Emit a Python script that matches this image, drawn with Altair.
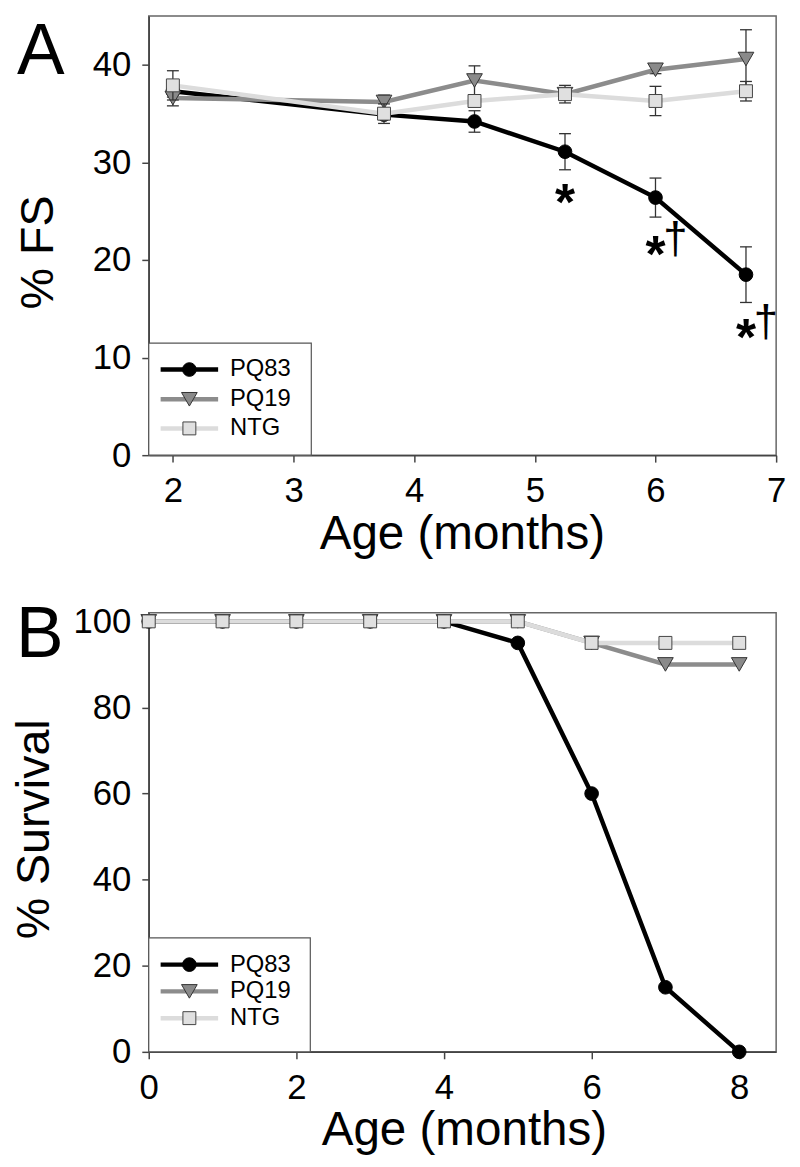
import altair as alt
import pandas as pd

FONT = "Liberation Sans"

series = ["PQ83", "PQ19", "NTG"]
panel_labels = ["A", "B"]

# ---- Panel A: % fractional shortening ----
age_a = [2, 3.75, 4.5, 5.25, 6, 6.75]
fs_pq83 = [37.3, 34.9, 34.2, 31.1, 26.4, 18.5]
fs_pq83_err = [0.6, 0.5, 1.1, 1.85, 2.0, 2.85]
fs_pq19 = [36.6, 36.2, 38.4, 37.0, 39.5, 40.6]
fs_pq19_err = [0.8, 0.7, 1.5, 0.5, 0.4, 3.0]
fs_ntg = [37.9, 35.0, 36.3, 37.0, 36.3, 37.3]
fs_ntg_err = [1.5, 1.0, 0.6, 0.9, 1.5, 1.0]

star_x = [5.25, 6, 6.75]
star_y = [26.6, 21.3, 12.8]
dagger_x = [6, 6.75]
dagger_y = [21.3, 12.8]

# ---- Panel B: % survival ----
age_b = [0, 1, 2, 3, 4, 5, 6, 7, 8]
surv_pq83 = [100, 100, 100, 100, 100, 95, 60, 15, 0]
surv_pq19 = [100, 100, 100, 100, 100, 100, 95, 90, 90]
surv_ntg = [100, 100, 100, 100, 100, 100, 95, 95, 95]

style = {
    "PQ83": dict(line="#000000", fill="#000000", stroke="#000000", shape="circle", size=190),
    "PQ19": dict(line="#8c8c8c", fill="#8a8a8a", stroke="#333333", shape="triangle-down", size=250),
    "NTG": dict(line="#dcdcdc", fill="#e0e0e0", stroke="#444444", shape="square", size=170),
}

vals_a = {"PQ83": (fs_pq83, fs_pq83_err), "PQ19": (fs_pq19, fs_pq19_err), "NTG": (fs_ntg, fs_ntg_err)}
vals_b = {"PQ83": surv_pq83, "PQ19": surv_pq19, "NTG": surv_ntg}

W, H = 633, 443


def axis_common(**kw):
    base = dict(grid=False, ticks=True, tickSize=7, tickColor="#444", tickWidth=1.5,
                domainColor="#444", domainWidth=1.5, labelFont=FONT, labelFontSize=35,
                labelColor="#000", titleFont=FONT, titleFontWeight="normal",
                titleColor="#000", labelFlush=False, labelOverlap=False)
    base.update(kw)
    return alt.Axis(**base)


def legend_layers(rows_y, box):
    out = []
    out.append(alt.Chart(pd.DataFrame({"k": [0]})).mark_rect(
        fill="white", stroke="#555", strokeWidth=1.2).encode(
        x=alt.value(box[0]), x2=alt.value(box[1]), y=alt.value(box[2]), y2=alt.value(box[3])))
    for name, yy in zip(series, rows_y):
        st = style[name]
        c = alt.Chart(pd.DataFrame({"series": [name]}))
        out.append(c.mark_rule(color=st["line"], strokeWidth=4.5).encode(
            x=alt.value(12), x2=alt.value(70), y=alt.value(yy)))
        out.append(c.mark_point(shape=st["shape"], size=st["size"], filled=True, fill=st["fill"],
                                stroke=st["stroke"], strokeWidth=1, opacity=1).encode(
            x=alt.value(41), y=alt.value(yy)))
        out.append(c.mark_text(align="left", baseline="middle", fontSize=24, font=FONT,
                               color="black").encode(
            x=alt.value(82), y=alt.value(yy), text="series:N"))
    return out


# ---------------- Panel A ----------------
xs_a = alt.Scale(domain=[1.8, 7], nice=False, zero=False)
ys_a = alt.Scale(domain=[0, 45], nice=False)
xax_a = axis_common(values=[2, 3, 4, 5, 6, 7], format="d", labelPadding=12,
                    title="Age (months)", titleFontSize=48, titleX=316, titleY=94,
                    titleAlign="center", titleBaseline="alphabetic")
yax_a = axis_common(values=[0, 10, 20, 30, 40], format="d", labelPadding=11,
                    title="% FS", titleFontSize=47, titleAngle=270, titleX=-111, titleY=238,
                    titleAlign="center", titleBaseline="middle")
XA = alt.X("age:Q", scale=xs_a, axis=xax_a)

layers_a = []
for name in series:
    st = style[name]
    v, e = vals_a[name]
    d = pd.DataFrame({"age": age_a, "val": v,
                      "lo": [a - b for a, b in zip(v, e)], "hi": [a + b for a, b in zip(v, e)]})
    c = alt.Chart(d)
    layers_a.append(c.mark_rule(color="#333", strokeWidth=1.3).encode(
        x=XA, y=alt.Y("lo:Q", scale=ys_a, axis=yax_a), y2="hi:Q"))
    for col in ["lo", "hi"]:
        layers_a.append(c.mark_point(shape="M-1,0L1,0", size=144, filled=False, stroke="#333",
                                     strokeWidth=1.3, opacity=1).encode(
            x=XA, y=alt.Y(f"{col}:Q", scale=ys_a, axis=yax_a)))
    layers_a.append(c.mark_line(color=st["line"], strokeWidth=4.5).encode(
        x=XA, y=alt.Y("val:Q", scale=ys_a, axis=yax_a)))
    layers_a.append(c.mark_point(shape=st["shape"], size=st["size"], filled=True, fill=st["fill"],
                                 stroke=st["stroke"], strokeWidth=1, opacity=1).encode(
        x=XA, y=alt.Y("val:Q", scale=ys_a, axis=yax_a)))

star_df = pd.DataFrame({"age": star_x, "val": star_y})
dag_df = pd.DataFrame({"age": dagger_x, "val": dagger_y})
layers_a.append(alt.Chart(star_df).mark_text(fontSize=52, fontWeight="bold", font=FONT, color="black",
                                             baseline="alphabetic", align="center", dy=25).encode(
    x=XA, y=alt.Y("val:Q", scale=ys_a, axis=yax_a), text=alt.value("*")))
layers_a.append(alt.Chart(dag_df).mark_text(fontSize=44, font=FONT, color="black",
                                            baseline="alphabetic", align="center", dx=20, dy=6).encode(
    x=XA, y=alt.Y("val:Q", scale=ys_a, axis=yax_a), text=alt.value("†")))

layers_a += legend_layers([356.6, 386.6, 416], [0, 164, 330, H])
layers_a.append(alt.Chart(pd.DataFrame({"label": [panel_labels[0]]})).mark_text(
    align="left", baseline="alphabetic", fontSize=72, font=FONT, color="black").encode(
    x=alt.value(-133), y=alt.value(58), text="label:N"))

chart_a = alt.layer(*layers_a).properties(width=W, height=H)

# ---------------- Panel B ----------------
xs_b = alt.Scale(domain=[0, 8.5], nice=False, zero=False)
ys_b = alt.Scale(domain=[0, 102], nice=False)
xax_b = axis_common(values=[0, 2, 4, 6, 8], format="d", labelPadding=12,
                    title="Age (months)", titleFontSize=48, titleX=318, titleY=93,
                    titleAlign="center", titleBaseline="alphabetic")
yax_b = axis_common(values=[0, 20, 40, 60, 80, 100], format="d", labelPadding=11,
                    title="% Survival", titleFontSize=47, titleAngle=270, titleX=-115, titleY=218,
                    titleAlign="center", titleBaseline="middle")
XB = alt.X("age:Q", scale=xs_b, axis=xax_b)

layers_b = []
for name in series:
    st = style[name]
    d = pd.DataFrame({"age": age_b, "val": vals_b[name]})
    c = alt.Chart(d)
    layers_b.append(c.mark_line(color=st["line"], strokeWidth=4.5).encode(
        x=XB, y=alt.Y("val:Q", scale=ys_b, axis=yax_b)))
    layers_b.append(c.mark_point(shape=st["shape"], size=st["size"], filled=True, fill=st["fill"],
                                 stroke=st["stroke"], strokeWidth=1, opacity=1).encode(
        x=XB, y=alt.Y("val:Q", scale=ys_b, axis=yax_b)))

layers_b += legend_layers([355, 382, 409], [0, 163, 328, H])
layers_b.append(alt.Chart(pd.DataFrame({"label": [panel_labels[1]]})).mark_text(
    align="left", baseline="alphabetic", fontSize=72, font=FONT, color="black").encode(
    x=alt.value(-134), y=alt.value(45), text="label:N"))

chart_b = alt.layer(*layers_b).properties(width=W, height=H)

chart = alt.vconcat(chart_a, chart_b, spacing=40).resolve_scale(
    x="independent", y="independent").configure_view(
    stroke="#666", strokeWidth=1.5).properties(
    padding={"left": 2, "top": 2, "right": 5, "bottom": 5}, background="white")

chart.save("out.html", embed_options={"renderer": "svg", "actions": False})
